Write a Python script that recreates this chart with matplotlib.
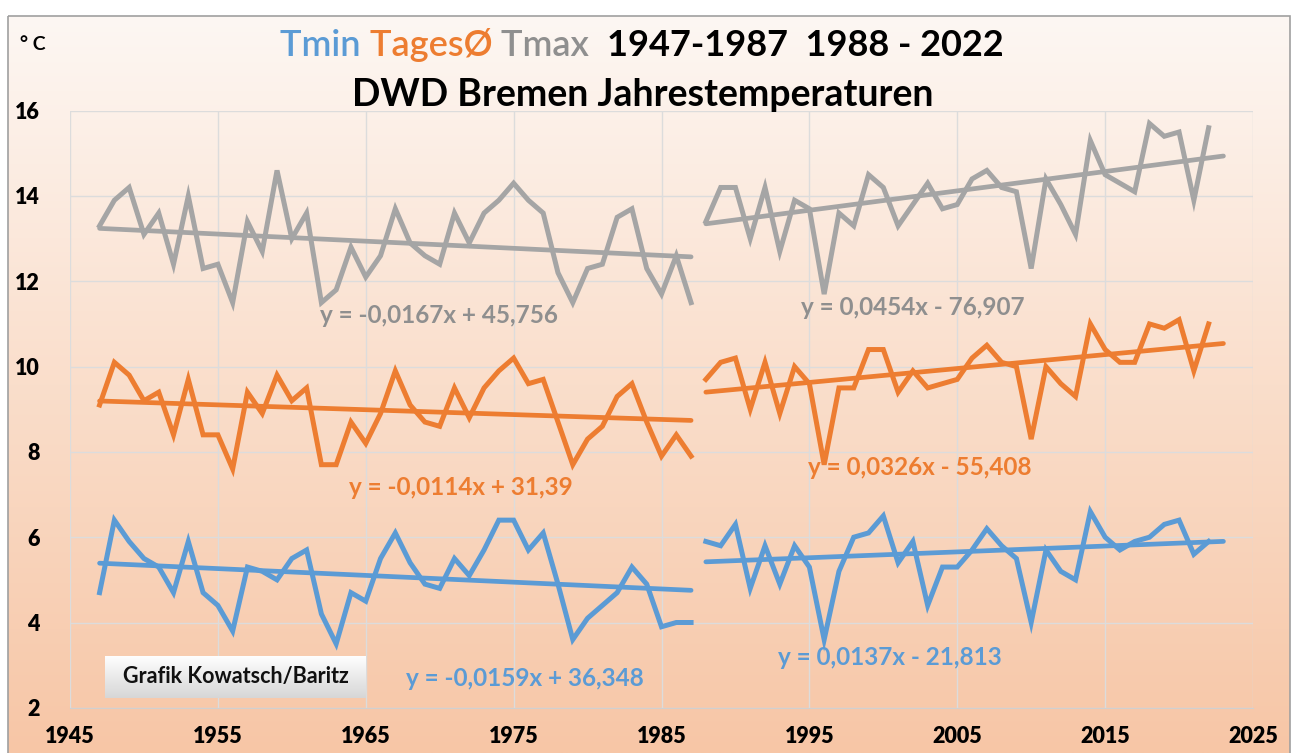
import numpy as np
import matplotlib
matplotlib.use("Agg")
import matplotlib.pyplot as plt
from matplotlib.patches import Rectangle

# ---------------- data ----------------
years_a = list(range(1947, 1988))
years_b = list(range(1988, 2023))

tmax_a = [13.3, 13.9, 14.2, 13.1, 13.6, 12.4, 14.0, 12.3, 12.4, 11.5,
          13.4, 12.7, 14.6, 13.0, 13.6, 11.5, 11.8, 12.8, 12.1, 12.6,
          13.7, 12.9, 12.6, 12.4, 13.6, 12.9, 13.6, 13.9, 14.3, 13.9,
          13.6, 12.2, 11.5, 12.3, 12.4, 13.5, 13.7, 12.3, 11.7, 12.6, 11.5]
tmean_a = [9.1, 10.1, 9.8, 9.2, 9.4, 8.4, 9.7, 8.4, 8.4, 7.6,
           9.4, 8.9, 9.8, 9.2, 9.5, 7.7, 7.7, 8.7, 8.2, 8.9,
           9.9, 9.1, 8.7, 8.6, 9.5, 8.8, 9.5, 9.9, 10.2, 9.6,
           9.7, 8.7, 7.7, 8.3, 8.6, 9.3, 9.6, 8.7, 7.9, 8.4, 7.9]
tmin_a = [4.7, 6.4, 5.9, 5.5, 5.3, 4.7, 5.9, 4.7, 4.4, 3.8,
          5.3, 5.2, 5.0, 5.5, 5.7, 4.2, 3.5, 4.7, 4.5, 5.5,
          6.1, 5.4, 4.9, 4.8, 5.5, 5.1, 5.7, 6.4, 6.4, 5.7,
          6.1, 4.9, 3.6, 4.1, 4.4, 4.7, 5.3, 4.9, 3.9, 4.0, 4.0]

tmax_b = [13.4, 14.2, 14.2, 13.0, 14.2, 12.7, 13.9, 13.7, 11.7, 13.6,
          13.3, 14.5, 14.2, 13.3, 13.8, 14.3, 13.7, 13.8, 14.4, 14.6,
          14.2, 14.1, 12.3, 14.4, 13.8, 13.1, 15.3, 14.5, 14.3, 14.1,
          15.7, 15.4, 15.5, 13.9, 15.6]
tmean_b = [9.7, 10.1, 10.2, 9.0, 10.1, 8.9, 10.0, 9.6, 7.7, 9.5,
           9.5, 10.4, 10.4, 9.4, 9.9, 9.5, 9.6, 9.7, 10.2, 10.5,
           10.1, 10.0, 8.3, 10.0, 9.6, 9.3, 11.0, 10.4, 10.1, 10.1,
           11.0, 10.9, 11.1, 9.9, 11.0]
tmin_b = [5.9, 5.8, 6.3, 4.8, 5.8, 4.9, 5.8, 5.3, 3.6, 5.2,
          6.0, 6.1, 6.5, 5.4, 5.9, 4.4, 5.3, 5.3, 5.7, 6.2,
          5.8, 5.5, 4.0, 5.7, 5.2, 5.0, 6.6, 6.0, 5.7, 5.9,
          6.0, 6.3, 6.4, 5.6, 5.9]

# trend coefficients (slope, intercept) as printed
trend_tmax_a = (-0.0167, 45.756)
trend_tmean_a = (-0.0114, 31.39)
trend_tmin_a = (-0.0159, 36.348)
trend_tmax_b = (0.0454, -76.907)
trend_tmean_b = (0.0326, -55.408)
trend_tmin_b = (0.0137, -21.813)

eq_labels = ["y = -0,0167x + 45,756", "y = 0,0454x - 76,907",
             "y = -0,0114x + 31,39", "y = 0,0326x - 55,408",
             "y = -0,0159x + 36,348", "y = 0,0137x - 21,813"]

x_ticks = list(range(1945, 2026, 10))
y_ticks = list(range(2, 17, 2))

# ---------------- style ----------------
C_MAX = "#a5a5a5"
C_MEAN = "#ed7d31"
C_MIN = "#5b9bd5"
C_MAX_TXT = "#8f8f8f"
FONT = "Lato"

W, H = 1295, 753
fig = plt.figure(figsize=(W / 100, H / 100), dpi=100)
fig.patch.set_facecolor("white")

# background gradient inside border
bg = fig.add_axes([0, 0, 1, 1], zorder=-10)
bg.set_xlim(0, W)
bg.set_ylim(H, 0)
bg.axis("off")
top_c = np.array([253, 247, 243]) / 255
mid_c = np.array([250, 222, 203]) / 255
bot_c = np.array([247, 198, 166]) / 255
t = np.linspace(0, 1, 256)[:, None]
grad = np.where(t < 0.5, top_c + (mid_c - top_c) * (t / 0.5),
                mid_c + (bot_c - mid_c) * ((t - 0.5) / 0.5))
grad = np.repeat(grad[:, None, :], 2, axis=1)
bg.imshow(grad, extent=[8, 1290, H, 16], aspect="auto", zorder=0)
bg.add_patch(Rectangle((8, 16), 1282, H - 16 + 5, fill=False,
                       edgecolor="#a0a0a0", linewidth=1.2, zorder=1))

# main axes
px_l, px_r, px_t, px_b = 70, 1253, 110.7, 707.8
ax = fig.add_axes([px_l / W, 1 - px_b / H, (px_r - px_l) / W, (px_b - px_t) / H])
ax.set_facecolor("none")
ax.set_xlim(1945, 2025)
ax.set_ylim(2, 16)
ax.set_xticks(x_ticks)
ax.set_yticks(y_ticks)
ax.grid(True, color="#dcdcdc", linewidth=1.0)
ax.set_axisbelow(True)
for s in ["top", "right", "left"]:
    ax.spines[s].set_visible(False)
ax.spines["bottom"].set_color("#d0d0d0")
ax.tick_params(length=0)
for lbl in ax.get_xticklabels() + ax.get_yticklabels():
    lbl.set_fontfamily(FONT)
    lbl.set_fontweight("heavy")
    lbl.set_fontsize(15.5)
ax.tick_params(axis="y", pad=22)
ax.tick_params(axis="x", pad=13)

lw = 3.6
for yrs, data, col in [(years_a, tmax_a, C_MAX), (years_a, tmean_a, C_MEAN),
                       (years_a, tmin_a, C_MIN), (years_b, tmax_b, C_MAX),
                       (years_b, tmean_b, C_MEAN), (years_b, tmin_b, C_MIN)]:
    ax.plot(yrs, data, color=col, lw=lw, solid_joinstyle="miter", zorder=3)

xa = np.array([years_a[0], years_a[-1]], dtype=float)
xb = np.array([years_b[0], years_b[-1] + 1], dtype=float)
for xs, (m, b), col in [(xa, trend_tmax_a, C_MAX), (xa, trend_tmean_a, C_MEAN),
                        (xa, trend_tmin_a, C_MIN), (xb, trend_tmax_b, C_MAX),
                        (xb, trend_tmean_b, C_MEAN), (xb, trend_tmin_b, C_MIN)]:
    ax.plot(xs, m * xs + b, color=col, lw=3.4, solid_capstyle="round", zorder=4)

# equation labels
eq_pos = [(1961.9, 11.2), (1994.4, 11.39), (1963.9, 7.17),
          (1994.9, 7.64), (1967.7, 2.68), (1992.9, 3.18)]
eq_col = [C_MAX_TXT, C_MAX_TXT, C_MEAN, C_MEAN, C_MIN, C_MIN]
for s, (x, y), c in zip(eq_labels, eq_pos, eq_col):
    ax.text(x, y, s, color=c, fontsize=17.5, fontweight="bold", family=FONT,
            ha="left", va="center", zorder=5)

# credit box
bx0, bx1, by0, by1 = 105, 366, 656, 698
box_ax = fig.add_axes([bx0 / W, 1 - by1 / H, (bx1 - bx0) / W, (by1 - by0) / H], zorder=6)
box_ax.axis("off")
bgrad = np.linspace(1.0, 0.84, 64)[:, None]
box_ax.imshow(np.dstack([bgrad, bgrad, bgrad]).repeat(2, axis=1), extent=[0, 1, 0, 1],
              aspect="auto")
box_ax.set_xlim(0, 1)
box_ax.set_ylim(0, 1)
box_ax.text(0.5, 0.5, "Grafik Kowatsch/Baritz", ha="center", va="center",
            fontsize=15.5, fontweight="bold", family=FONT, color="#111111")

# titles
fig.text(20 / W, 1 - 45 / H, "° C", fontsize=14, fontweight="bold", family=FONT,
         ha="left", va="center")

renderer = fig.canvas.get_renderer()
parts = [("Tmin ", C_MIN, "semibold"), ("TagesØ ", C_MEAN, "semibold"),
         ("Tmax  ", C_MAX_TXT, "semibold"), ("1947-1987  1988 - 2022", "black", "bold")]
x = 280
for txt, col, wt in parts:
    tt = fig.text(x / W, 1 - 45 / H, txt, color=col, fontsize=26, fontweight=wt,
                  family=FONT, ha="left", va="center")
    bb = tt.get_window_extent(renderer)
    x += bb.width

fig.text(643 / W, 1 - 95 / H, "DWD Bremen Jahrestemperaturen", fontsize=27,
         fontweight="bold", family=FONT, ha="center", va="center")

fig.savefig("out.png", dpi=100, facecolor="white")
